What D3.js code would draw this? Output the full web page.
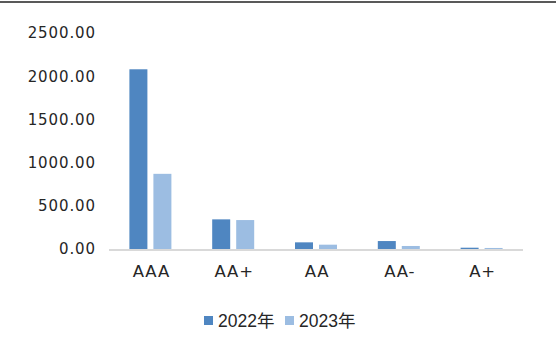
<!DOCTYPE html>
<html>
<head>
<meta charset="utf-8">
<script src="https://cdn.jsdelivr.net/npm/d3@7"></script>
<style>
  html, body { margin: 0; padding: 0; background: #fff; }
  svg { display: block; }
</style>
</head>
<body>
<div id="chart"></div>
<script>
// Rating categories and yearly totals
const categories = ["AAA", "AA+", "AA", "AA-", "A+"];
const seriesNames = ["2022年", "2023年"];
const values2022 = [2080, 343, 77, 92, 15];
const values2023 = [870, 335, 50, 35, 12];
const yTicks = [0, 500, 1000, 1500, 2000, 2500];

const W = 556, H = 358;
const margin = { top: 32, right: 33, bottom: 109, left: 109 };
const colors = ["#4f86c1", "#9cbde2"];

const svg = d3.select("#chart").append("svg")
  .attr("width", W).attr("height", H);

// top rule
svg.append("rect").attr("x", 0).attr("y", 1).attr("width", W).attr("height", 2)
  .attr("fill", "#595959");

const x0 = d3.scaleBand().domain(categories)
  .range([margin.left, W - margin.right]).paddingInner(0).paddingOuter(0);
const y = d3.scaleLinear().domain([0, 2500])
  .range([H - margin.bottom, margin.top + 1]);

const barW = 18, gap = 6;
const x1 = d3.scaleOrdinal().domain(seriesNames).range([0, barW + gap]);

const rows = categories.map((c, i) => ({ cat: c, vals: [values2022[i], values2023[i]] }));

// y tick labels
svg.append("g").selectAll("text").data(yTicks).join("text")
  .attr("x", 96).attr("y", d => y(d))
  .attr("dy", "0.36em")
  .attr("text-anchor", "end")
  .attr("font-family", "'DejaVu Sans', sans-serif")
  .attr("font-size", 15)
  .attr("letter-spacing", 0.9)
  .attr("fill", "#262626")
  .text(d => d3.format(".2f")(d));

// bars
const groups = svg.append("g").selectAll("g").data(rows).join("g")
  .attr("transform", d => `translate(${x0(d.cat) + x0.bandwidth() / 2 - (2 * barW + gap) / 2},0)`);
groups.selectAll("rect").data(d => d.vals.map((v, k) => ({ v, k })))
  .join("rect")
  .attr("x", d => x1(seriesNames[d.k]))
  .attr("y", d => y(d.v))
  .attr("width", barW)
  .attr("height", d => y(0) - y(d.v))
  .attr("fill", d => colors[d.k]);

// baseline
svg.append("line")
  .attr("x1", margin.left).attr("x2", W - margin.right)
  .attr("y1", y(0) + 1).attr("y2", y(0) + 1)
  .attr("stroke", "#d9d9d9").attr("stroke-width", 2);

// category labels
svg.append("g").selectAll("text").data(categories).join("text")
  .attr("x", d => x0(d) + x0.bandwidth() / 2 + 1)
  .attr("y", 277)
  .attr("text-anchor", "middle")
  .attr("font-family", "'DejaVu Sans', sans-serif")
  .attr("font-size", 16.5)
  .attr("letter-spacing", 0.8)
  .attr("fill", "#262626")
  .text(d => d);

// legend
const legend = svg.append("g");
const legendX = [204, 285];
seriesNames.forEach((name, k) => {
  legend.append("rect")
    .attr("x", legendX[k]).attr("y", 316)
    .attr("width", 9).attr("height", 9)
    .attr("fill", colors[k]);
  legend.append("text")
    .attr("x", legendX[k] + 14).attr("y", 327)
    .attr("font-family", "'Liberation Sans', 'Noto Sans CJK SC', sans-serif")
    .attr("font-size", 17.5)
    .attr("fill", "#262626")
    .text(name);
});
</script>
</body>
</html>
